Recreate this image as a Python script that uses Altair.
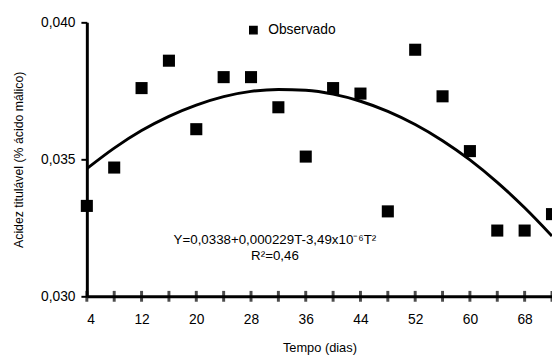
import altair as alt
import pandas as pd

# Observed data (days, titratable acidity)
dias = [4, 8, 12, 16, 20, 24, 28, 32, 36, 40, 44, 48, 52, 56, 60, 64, 68, 72]
acidez = [0.0333, 0.0347, 0.0376, 0.0386, 0.0361, 0.0380, 0.0380, 0.0369, 0.0351,
          0.0376, 0.0374, 0.0331, 0.0390, 0.0373, 0.0353, 0.0324, 0.0324, 0.0330]

# Fitted curve
curva_t = [4, 8, 12, 16, 20, 24, 28, 32, 36, 40, 44, 48, 52, 56, 60, 64, 68, 72]
curva_y = [0.03466, 0.03541, 0.03605, 0.03657, 0.03698, 0.03729, 0.03748, 0.03755, 0.03752,
           0.03738, 0.03712, 0.03675, 0.03627, 0.03568, 0.03498, 0.03416, 0.03323, 0.03220]

# x axis ticks
tick_pos = [4, 8, 12, 16, 20, 24, 28, 32, 36, 40, 44, 48, 52, 56, 60, 64, 68, 72]
tick_label_pos = [4, 12, 20, 28, 36, 44, 52, 60, 68]
y_ticks = [0.030, 0.035, 0.040]

# Annotation
eq_text = ["Y=0,0338+0,000229T-3,49x10⁻⁶T²", "R²=0,46"]
eq_x = [31.5, 31.5]
eq_y = [0.03206, 0.03148]

obs = pd.DataFrame({"dias": dias, "acidez": acidez, "serie": ["Observado"] * len(dias)})
fit = pd.DataFrame({"dias": curva_t, "acidez": curva_y})
ticks = pd.DataFrame({"dias": tick_pos, "acidez": [0.030] * len(tick_pos)})
ann = pd.DataFrame({"dias": eq_x, "acidez": eq_y, "txt": eq_text})

FONT = "Liberation Sans"

xscale = alt.Scale(domain=[4, 72], nice=False, zero=False)
yscale = alt.Scale(domain=[0.030, 0.040], nice=False, zero=False)

label_expr_x = "indexof([" + ",".join(str(v) for v in tick_label_pos) + "], datum.value) >= 0 ? datum.value : ''"

xenc = alt.X("dias:Q", scale=xscale,
             axis=alt.Axis(title="Tempo (dias)", values=tick_pos, labelExpr=label_expr_x,
                           ticks=False, labelPadding=17, grid=False,
                           titlePadding=15, titleFontSize=13))
yenc = alt.Y("acidez:Q", scale=yscale,
             axis=alt.Axis(title="Acidez titulável (% ácido málico)", values=y_ticks,
                           labelExpr="replace(format(datum.value, '.3f'), '.', ',')",
                           tickSize=6, tickWidth=2, labelPadding=6, grid=False,
                           titlePadding=15, titleFontSize=12.5))

points = alt.Chart(obs).mark_square(size=150, color="black", opacity=1).encode(
    x=xenc, y=yenc,
    color=alt.Color("serie:N", scale=alt.Scale(range=["black"]),
                    legend=alt.Legend(orient="none", legendX=162, legendY=1, title=None,
                                      symbolType="square", symbolSize=55, labelOffset=8,
                                      labelFont=FONT, labelFontSize=14, labelColor="black",
                                      symbolFillColor="black", symbolStrokeColor="black"))
)

line = alt.Chart(fit).mark_line(color="black", strokeWidth=3, interpolate="monotone").encode(
    x="dias:Q", y="acidez:Q"
)

xt = alt.Chart(ticks).mark_tick(color="black", orient="vertical", size=11, thickness=3).encode(
    x="dias:Q", y="acidez:Q"
)

text = alt.Chart(ann).mark_text(font=FONT, fontSize=13.5, color="black").encode(
    x="dias:Q", y="acidez:Q", text="txt:N"
)

chart = alt.layer(line, points, xt, text).properties(
    width=472, height=278,
    autosize=alt.AutoSizeParams(type="none"),
    padding={"left": 80, "top": 12, "right": 0, "bottom": 57},
).configure_view(stroke=None).configure_axis(
    domainColor="black", domainWidth=3, tickColor="black",
    labelFont=FONT, labelFontSize=14, labelColor="black",
    titleFont=FONT, titleColor="black", titleFontWeight="normal",
)

chart.save("out.html", embed_options={"renderer": "svg", "actions": False})
